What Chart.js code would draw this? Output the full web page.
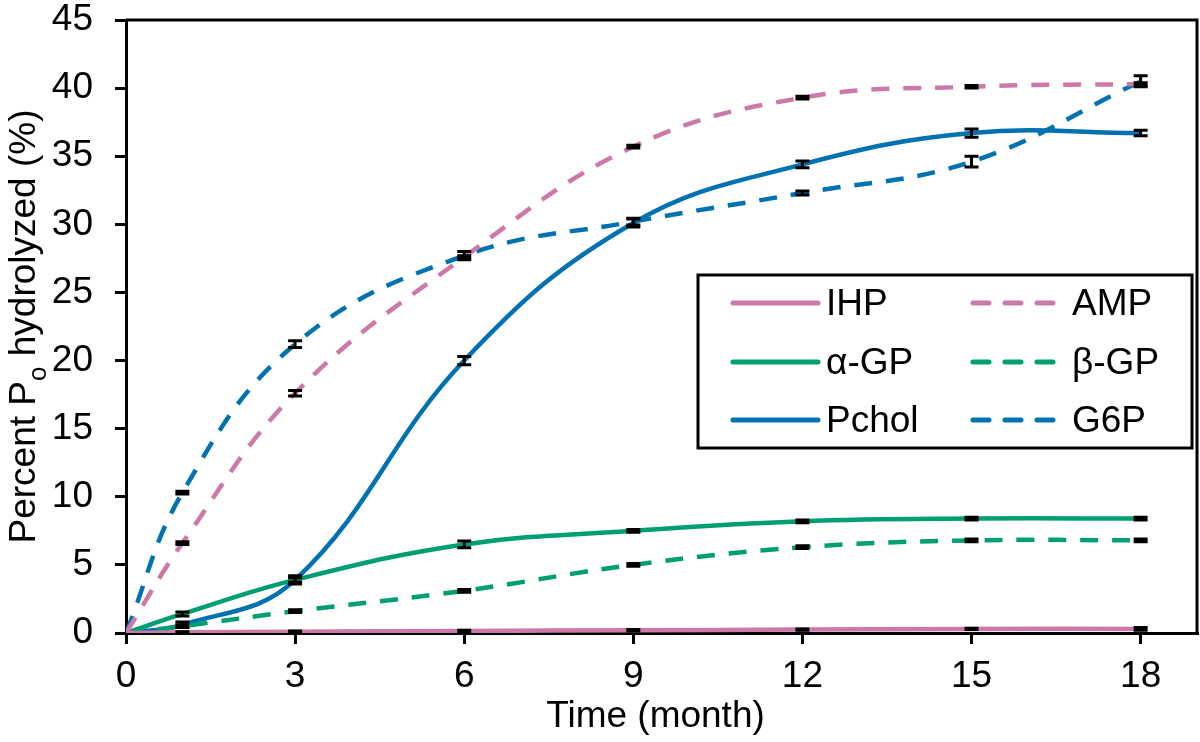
<!DOCTYPE html>
<html>
<head>
<meta charset="utf-8">
<script src="https://cdn.jsdelivr.net/npm/chart.js@4.4.1/dist/chart.umd.min.js"></script>
<style>
  html, body { margin: 0; padding: 0; background: #fff; }
  #wrap { width: 1200px; height: 742px; }
</style>
</head>
<body>
<div id="wrap"><canvas id="chart"></canvas></div>
<script>
// Sampling times (month)
const months = [0, 1, 3, 6, 9, 12, 15, 18];
const xTicks = [0, 3, 6, 9, 12, 15, 18];

// Percent Po hydrolyzed
const ihp   = [0, 0.05, 0.1, 0.15, 0.2, 0.25, 0.3, 0.3];
const alpha = [0, 1.4, 3.9, 6.5, 7.5, 8.2, 8.4, 8.4];
const pchol = [0, 0.6, 3.9, 20.0, 30.1, 34.4, 36.7, 36.7];
const amp   = [0, 6.6, 17.6, 27.6, 35.7, 39.3, 40.1, 40.3];
const beta  = [0, 0.5, 1.6, 3.1, 5.0, 6.3, 6.8, 6.8];
const g6p   = [0, 10.3, 21.2, 27.7, 30.2, 32.3, 34.6, 40.5];

// Error bars (+/-)
const ihpErr   = [0, 0.05, 0.05, 0.05, 0.05, 0.05, 0.05, 0.1];
const alphaErr = [0, 0.15, 0.15, 0.25, 0.1, 0.1, 0.1, 0.1];
const pcholErr = [0, 0.2, 0.3, 0.3, 0.3, 0.25, 0.3, 0.2];
const ampErr   = [0, 0.1, 0.2, 0.1, 0.1, 0.1, 0.1, 0.1];
const betaErr  = [0, 0.1, 0.1, 0.1, 0.1, 0.1, 0.1, 0.1];
const g6pErr   = [0, 0.1, 0.25, 0.3, 0.25, 0.15, 0.4, 0.4];

const PINK = '#cc79a7';
const GREEN = '#009e73';
const BLUE = '#0072b2';
const DASH = [18, 14];
const FONT = '"Liberation Sans", Arial, sans-serif';

function series(label, values, errs, color, dashed) {
    return {
        label: label,
        data: months.map((m, i) => ({ x: m, y: values[i] })),
        errors: errs,
        borderColor: color,
        backgroundColor: color,
        borderWidth: 4.5,
        borderDash: dashed ? DASH : [],
        borderCapStyle: 'butt',
        pointRadius: 0,
        tension: 0.4,
        fill: false
    };
}

const datasets = [
    series('IHP', ihp, ihpErr, PINK, false),
    series('AMP', amp, ampErr, PINK, true),
    series('α-GP', alpha, alphaErr, GREEN, false),
    series('β-GP', beta, betaErr, GREEN, true),
    series('G6P', g6p, g6pErr, BLUE, true),
    series('Pchol', pchol, pcholErr, BLUE, false)
];

// legend layout: rows of [left, right] entries
const legendRows = [['IHP', 'AMP'], ['α-GP', 'β-GP'], ['Pchol', 'G6P']];

// Error bars, plot frame, legend box and axis titles
const decorations = {
    id: 'decorations',
    afterDatasetsDraw(chart) {
        const ctx = chart.ctx;
        const xs = chart.scales.x, ys = chart.scales.y;
        ctx.save();
        ctx.strokeStyle = '#000';
        ctx.lineWidth = 3;
        chart.data.datasets.forEach(ds => {
            ds.data.forEach((p, i) => {
                const e = ds.errors[i];
                if (!e || p.x === 0) return;
                const px = xs.getPixelForValue(p.x);
                const yHi = ys.getPixelForValue(p.y + e);
                const yLo = ys.getPixelForValue(p.y - e);
                ctx.beginPath();
                ctx.moveTo(px, yHi); ctx.lineTo(px, yLo);
                ctx.moveTo(px - 7, yHi); ctx.lineTo(px + 7, yHi);
                ctx.moveTo(px - 7, yLo); ctx.lineTo(px + 7, yLo);
                ctx.stroke();
            });
        });
        ctx.restore();
    },
    afterDraw(chart) {
        const ctx = chart.ctx;
        const a = chart.chartArea;
        ctx.save();

        // top and right frame lines
        ctx.strokeStyle = '#000';
        ctx.lineWidth = 3;
        ctx.beginPath();
        ctx.moveTo(a.left, a.top);
        ctx.lineTo(a.right, a.top);
        ctx.lineTo(a.right, a.bottom);
        ctx.stroke();

        // legend box
        const box = { left: 698, top: 275, right: 1192, bottom: 448 };
        ctx.fillStyle = '#fff';
        ctx.fillRect(box.left, box.top, box.right - box.left, box.bottom - box.top);
        ctx.strokeRect(box.left, box.top, box.right - box.left, box.bottom - box.top);

        const byLabel = {};
        chart.data.datasets.forEach(ds => { byLabel[ds.label] = ds; });
        const rowY = [303, 362, 420];
        const cols = [
            { x0: 733, x1: 818, tx: 826 },
            { x0: 973, x1: 1058, tx: 1072 }
        ];
        ctx.font = '37px ' + FONT;
        ctx.textBaseline = 'middle';
        ctx.textAlign = 'left';
        legendRows.forEach((row, r) => {
            row.forEach((name, c) => {
                const ds = byLabel[name];
                const col = cols[c];
                ctx.strokeStyle = ds.borderColor;
                ctx.lineWidth = 5;
                ctx.lineCap = 'round';
                ctx.setLineDash(ds.borderDash.length ? [16, 16] : []);
                ctx.beginPath();
                ctx.moveTo(col.x0, rowY[r]);
                ctx.lineTo(col.x1, rowY[r]);
                ctx.stroke();
                ctx.setLineDash([]);
                ctx.fillStyle = '#000';
                ctx.fillText(name, col.tx, rowY[r] + 2);
            });
        });

        // x axis title
        ctx.fillStyle = '#000';
        ctx.font = '37px ' + FONT;
        ctx.textAlign = 'center';
        ctx.textBaseline = 'middle';
        ctx.fillText('Time (month)', (a.left + a.right) / 2 - 6, 717);

        // y axis title with subscript o
        const main = '37px ' + FONT, sub = '26px ' + FONT;
        const parts = [['Percent P', main, 0], ['o', sub, 11], [' hydrolyzed (%)', main, 0]];
        let total = 0;
        parts.forEach(p => { ctx.font = p[1]; total += ctx.measureText(p[0]).width; });
        ctx.translate(35, (a.top + a.bottom) / 2);
        ctx.rotate(-Math.PI / 2);
        ctx.textAlign = 'left';
        ctx.textBaseline = 'alphabetic';
        let x = -total / 2;
        parts.forEach(p => {
            ctx.font = p[1];
            ctx.fillText(p[0], x, p[2]);
            x += ctx.measureText(p[0]).width;
        });
        ctx.restore();
    }
};

const tickFont = { family: FONT, size: 37 };

new Chart(document.getElementById('chart'), {
    type: 'line',
    data: { datasets: datasets },
    options: {
        responsive: true,
        maintainAspectRatio: false,
        animation: false,
        layout: { padding: { top: 0, right: 3, left: 0, bottom: 0 } },
        plugins: {
            legend: { display: false },
            tooltip: { enabled: false }
        },
        scales: {
            x: {
                type: 'linear',
                min: 0,
                max: 19,
                afterBuildTicks: axis => {
                    axis.ticks = xTicks.map(v => ({ value: v }));
                },
                afterFit: scale => { scale.height = 109; },
                ticks: { font: tickFont, color: '#000', padding: 11, maxRotation: 0 },
                grid: { drawOnChartArea: false, color: '#000', lineWidth: 3, tickLength: 11 },
                border: { color: '#000', width: 3 }
            },
            y: {
                min: 0,
                max: 45,
                afterFit: scale => {
                    scale.width = 126;
                    scale.paddingTop = 20;
                    scale.paddingBottom = 0;
                },
                ticks: { stepSize: 5, font: tickFont, color: '#000', padding: 22 },
                grid: { drawOnChartArea: false, color: '#000', lineWidth: 3, tickLength: 11 },
                border: { color: '#000', width: 3 }
            }
        }
    },
    plugins: [decorations]
});
</script>
</body>
</html>
